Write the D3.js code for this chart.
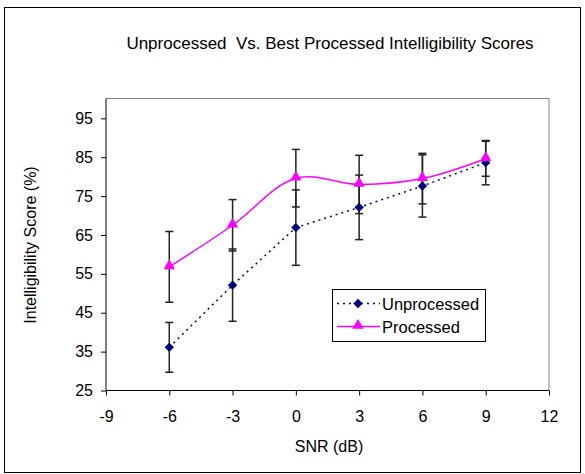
<!DOCTYPE html>
<html><head><meta charset="utf-8">
<script src="https://cdn.jsdelivr.net/npm/d3@7"></script>
<style>body{margin:0;background:#fff}text{font-family:"Liberation Sans",Arial,sans-serif}</style>
</head><body><svg id="c" width="585" height="474"></svg>
<script>
const snr = [-6, -3, 0, 3, 6, 9];
const unprocessed = [36.1, 52.1, 66.9, 72.1, 77.6, 83.6];
const unprocessedErr = [6.4, 9.3, 9.7, 8.3, 8.0, 5.7];
const processed = [56.8, 67.5, 79.6, 78.0, 79.5, 84.6];
const processedErr = [9.1, 6.6, 7.4, 7.5, 6.5, 4.5];
const xTicks = [-9, -6, -3, 0, 3, 6, 9, 12];
const yTicks = [25, 35, 45, 55, 65, 75, 85, 95];
const seriesNames = ["Unprocessed", "Processed"];

const svg = d3.select("#c");
svg.append("rect").attr("x",4.5).attr("y",7.5).attr("width",576).attr("height",465)
  .attr("fill","#fff").attr("stroke","#000").attr("stroke-width",1);

const L=106, R=549, T=98.5, B=390.5;
const x = d3.scaleLinear().domain([-9,12]).range([L,R]);
const y = d3.scaleLinear().domain([25,100.1]).range([B,T]);

svg.append("path").attr("d",`M${L},${T}H${R}V${B}`).attr("fill","none").attr("stroke","#808080").attr("stroke-width",1);

const fmt = d => String(d);
const xa = svg.append("g").attr("transform",`translate(0,${B})`)
  .call(d3.axisBottom(x).tickValues(xTicks).tickSize(5).tickPadding(15).tickFormat(fmt));
const ya = svg.append("g").attr("transform",`translate(${L},0)`)
  .call(d3.axisLeft(y).tickValues(yTicks).tickSize(5).tickPadding(8).tickFormat(fmt));
[xa,ya].forEach(a=>{a.select(".domain").attr("d", a===xa?`M${L},0H${R}`:`M0,${B}V${T}`).attr("stroke","#000");
  a.selectAll("text").attr("font-size",16).attr("fill","#000").style("font-family",'"Liberation Sans",Arial,sans-serif');
  a.selectAll(".tick line").attr("stroke","#000");});
xa.selectAll("text").attr("dy","0.71em");

svg.append("text").attr("x",330).attr("y",49).attr("text-anchor","middle").attr("font-size",17)
  .text("Unprocessed  Vs. Best Processed Intelligibility Scores").style("white-space","pre");
svg.append("text").attr("x",329).attr("y",452).attr("text-anchor","middle").attr("font-size",16).text("SNR (dB)");
svg.append("text").attr("transform","translate(36,245) rotate(-90)").attr("text-anchor","middle").attr("font-size",16).text("Intelligibility Score (%)");

function errBars(vals, errs){
  const g = svg.append("g").attr("stroke","#222").attr("stroke-width",1.5);
  snr.forEach((s,i)=>{
    const cx=x(s), y1=y(vals[i]+errs[i]), y2=y(vals[i]-errs[i]);
    g.append("line").attr("x1",cx).attr("x2",cx).attr("y1",y1).attr("y2",y2);
    g.append("line").attr("x1",cx-4).attr("x2",cx+4).attr("y1",y1).attr("y2",y1);
    g.append("line").attr("x1",cx-4).attr("x2",cx+4).attr("y1",y2).attr("y2",y2);
  });
}
errBars(unprocessed, unprocessedErr);
errBars(processed, processedErr);

const navy="#000080", mag="#FF00FF";
const lineU = d3.line().x((d,i)=>x(snr[i])).y(d=>y(d));
const lineP = d3.line().x((d,i)=>x(snr[i])).y(d=>y(d)).curve(d3.curveCatmullRom.alpha(0.5));
svg.append("path").attr("d",lineU(unprocessed)).attr("fill","none").attr("stroke",navy).attr("stroke-width",1.5).attr("stroke-dasharray","2,4");
svg.append("path").attr("d",lineP(processed)).attr("fill","none").attr("stroke",mag).attr("stroke-width",1.5);

const dia = d3.symbol().type(d3.symbolDiamond2).size(56);
const tri = d3.symbol().type(d3.symbolTriangle).size(56);
svg.append("g").selectAll("path").data(unprocessed).join("path").attr("d",dia)
  .attr("transform",(d,i)=>`translate(${x(snr[i])},${y(d)})`).attr("fill",navy);
svg.append("g").selectAll("path").data(processed).join("path").attr("d",tri)
  .attr("transform",(d,i)=>`translate(${x(snr[i])},${y(d)-1})`).attr("fill",mag);

const lg = svg.append("g");
lg.append("rect").attr("x",332.5).attr("y",289.5).attr("width",153).attr("height",52).attr("fill","#fff").attr("stroke","#000");
const rows=[303.5,326.5];
lg.append("line").attr("x1",337).attr("x2",380).attr("y1",rows[0]).attr("y2",rows[0]).attr("stroke",navy).attr("stroke-width",1.5).attr("stroke-dasharray","2,4");
lg.append("path").attr("d",dia).attr("transform",`translate(358,${rows[0]})`).attr("fill",navy);
lg.append("line").attr("x1",337).attr("x2",380).attr("y1",rows[1]).attr("y2",rows[1]).attr("stroke",mag).attr("stroke-width",1.5);
lg.append("path").attr("d",tri).attr("transform",`translate(358,${rows[1]-1})`).attr("fill",mag);
seriesNames.forEach((n,i)=>lg.append("text").attr("x",382).attr("y",rows[i]+6).attr("font-size",16.5).text(n));
</script></body></html>
